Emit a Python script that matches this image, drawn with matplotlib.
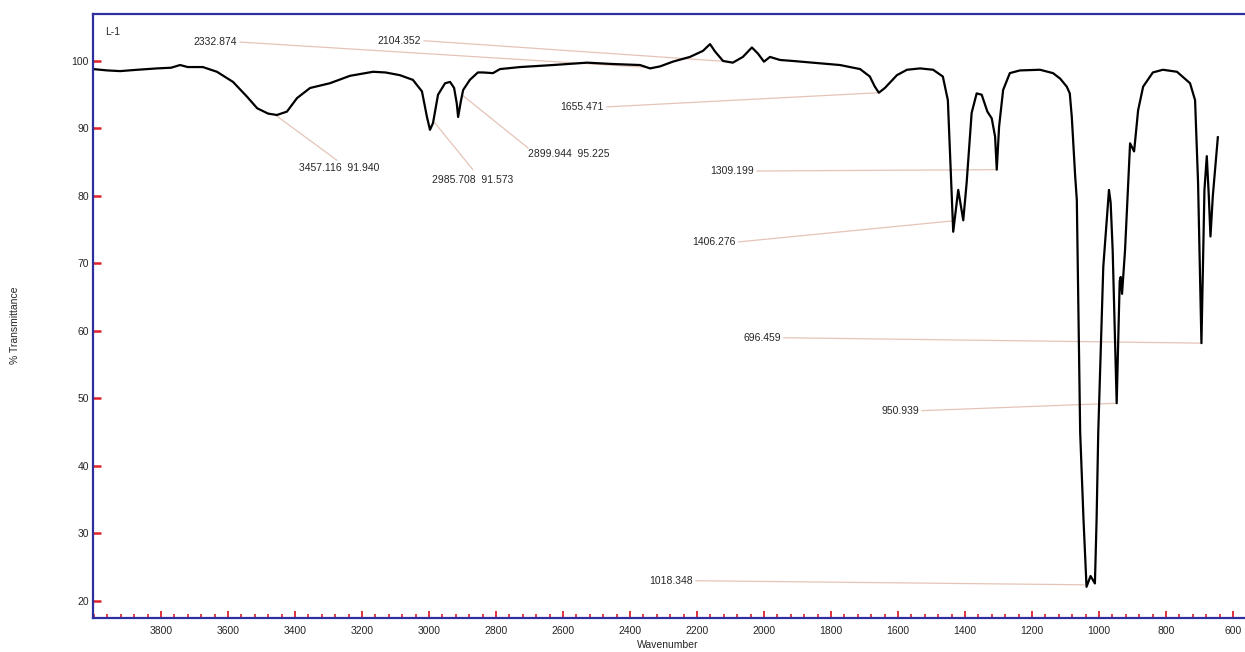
import matplotlib
matplotlib.use("Agg")
import matplotlib.pyplot as plt
from matplotlib.ticker import MultipleLocator

plt.rcParams['font.family'] = ['Liberation Sans', 'DejaVu Sans']

# Spectrum (wavenumber, %T)
wavenumber = [4003, 3960, 3922, 3870, 3812, 3770, 3743, 3720, 3675, 3633, 3585, 3543, 3513,
              3480, 3454, 3424, 3394, 3355, 3296, 3236, 3167, 3130, 3087, 3048, 3021, 3006,
              2997, 2988, 2973, 2952, 2937, 2925, 2917, 2913, 2905, 2898, 2878, 2854, 2839,
              2809, 2788, 2728, 2630, 2528, 2451, 2370, 2340, 2310, 2272, 2221, 2182, 2161,
              2146, 2122, 2093, 2063, 2036, 2018, 2000, 1982, 1952, 1913, 1854, 1773, 1713,
              1684, 1669, 1657, 1639, 1603, 1573, 1534, 1495, 1466, 1451, 1443, 1435, 1420,
              1405, 1395, 1380, 1365, 1350, 1333, 1320, 1310, 1305, 1298, 1286, 1266, 1236,
              1176, 1137, 1116, 1096, 1087, 1081, 1071, 1066, 1056, 1046, 1037, 1025, 1012,
              1007, 1002, 987, 972, 970, 965, 959, 947, 938, 935, 931, 922, 907, 895, 883,
              868, 839, 809, 767, 728, 713, 704, 694, 685, 678, 672, 667, 660, 645]
transmittance = [98.8, 98.6, 98.5, 98.7, 98.9, 99.0, 99.4, 99.1, 99.1, 98.4, 96.9, 94.7, 93.0,
                 92.2, 92.0, 92.5, 94.5, 96.0, 96.7, 97.8, 98.4, 98.3, 97.9, 97.2, 95.5, 91.7,
                 89.8, 90.8, 95.0, 96.7, 96.9, 96.0, 93.7, 91.7, 94.0, 95.7, 97.2, 98.3, 98.3,
                 98.2, 98.8, 99.1, 99.4, 99.75, 99.55, 99.4, 98.9, 99.2, 99.9, 100.6, 101.5, 102.5,
                 101.4, 100.0, 99.75, 100.6, 102.0, 101.1, 99.9, 100.6, 100.15, 100.0, 99.75, 99.4, 98.8,
                 97.7, 96.2, 95.3, 96.0, 97.9, 98.7, 98.9, 98.7, 97.7, 94.2, 84.3, 74.7, 80.9,
                 76.4, 81.9, 92.3, 95.2, 95.0, 92.5, 91.5, 88.8, 83.9, 90.3, 95.7, 98.2, 98.6,
                 98.7, 98.2, 97.4, 96.2, 95.2, 91.7, 83.0, 79.4, 45.0, 32.0, 22.1, 23.7, 22.6,
                 32.0, 45.0, 69.5, 79.4, 80.9, 79.0, 72.0, 49.3, 67.4, 68.0, 65.5, 72.0, 87.8, 86.6, 92.7,
                 96.2, 98.3, 98.7, 98.4, 96.7, 94.2, 81.9, 58.2, 80.9, 85.9, 80.0, 74.0, 80.0, 88.7]

# Peak annotations: label, label position (wn, %T), alignment, peak point (wn, %T)
peak_labels = ["2332.874", "2104.352", "3457.116  91.940", "2985.708  91.573",
               "2899.944  95.225", "1655.471", "1309.199", "1406.276", "696.459",
               "950.939", "1018.348"]
label_wn = [3572, 3024, 3269, 2869, 2704, 2478, 2030, 2084, 1949, 1537, 2212]
label_t = [102.8, 103.0, 84.1, 82.4, 86.2, 93.2, 83.7, 73.2, 59.0, 48.1, 23.0]
label_ha = ["right", "right", "center", "center", "left", "right", "right", "right",
            "right", "right", "right"]
line_start_wn = [3564, 3015, 3275, 2869, 2704, 2469, 2021, 2075, 1940, 1528, 2203]
line_start_t = [102.8, 103.0, 85.3, 83.9, 87.1, 93.2, 83.7, 73.2, 59.0, 48.2, 23.0]
peak_wn = [2332.874, 2104.352, 3457.116, 2982, 2902, 1657, 1305, 1439, 693, 946, 1045]
peak_t = [99.0, 99.9, 91.94, 90.8, 95.0, 95.3, 83.9, 76.3, 58.2, 49.3, 22.4]

y_ticks = [20, 30, 40, 50, 60, 70, 80, 90, 100]
x_ticks = [3800, 3600, 3400, 3200, 3000, 2800, 2600, 2400, 2200, 2000, 1800, 1600,
           1400, 1200, 1000, 800, 600]

W, H = 1245, 652
fig = plt.figure(figsize=(W / 100, H / 100), dpi=100)
ax = fig.add_axes([93 / W, (H - 618) / H, (1250 - 93) / W, (618 - 14) / H])

spine_col = '#2e2e9e'
tick_col = '#e0202a'
ann_col = '#e5c4b8'
txt_col = '#262626'

for i in range(len(peak_labels)):
    ax.plot([line_start_wn[i], peak_wn[i]], [line_start_t[i], peak_t[i]],
            color=ann_col, lw=0.9, zorder=1)
    pad = 0
    ax.text(label_wn[i], label_t[i], peak_labels[i], ha=label_ha[i], va='center',
            fontsize=7.5, color=txt_col, zorder=3)

ax.plot(wavenumber, transmittance, color='black', lw=1.6, zorder=2,
        solid_joinstyle='round')

ax.text(3967, 104.3, "L-1", fontsize=7.5, color=txt_col, va='center', ha='left')

ax.set_xlim(4003, 549)
ax.set_ylim(17.48, 106.96)
ax.set_xticks(x_ticks)
ax.xaxis.set_minor_locator(MultipleLocator(40))
ax.set_yticks(y_ticks)

ax.tick_params(axis='x', which='major', direction='in', length=5, width=1.3,
               color=tick_col, labelsize=7.5, labelcolor=txt_col, pad=6)
ax.tick_params(axis='x', which='minor', direction='in', length=3, width=1.2,
               color=tick_col)
ax.tick_params(axis='y', which='major', direction='in', length=6, width=1.8,
               color=tick_col, labelsize=7.5, labelcolor=txt_col, pad=3)

for s in ax.spines.values():
    s.set_color(spine_col)
    s.set_linewidth(1.6)

fig.text(15 / W, 1 - 325 / H, "% Transmittance", rotation=90, ha='center', va='center',
         fontsize=7.5, color=txt_col)
fig.text(668 / W, 1 - 645 / H, "Wavenumber", ha='center', va='center',
         fontsize=7.5, color=txt_col)

fig.savefig("out.png", dpi=100)
